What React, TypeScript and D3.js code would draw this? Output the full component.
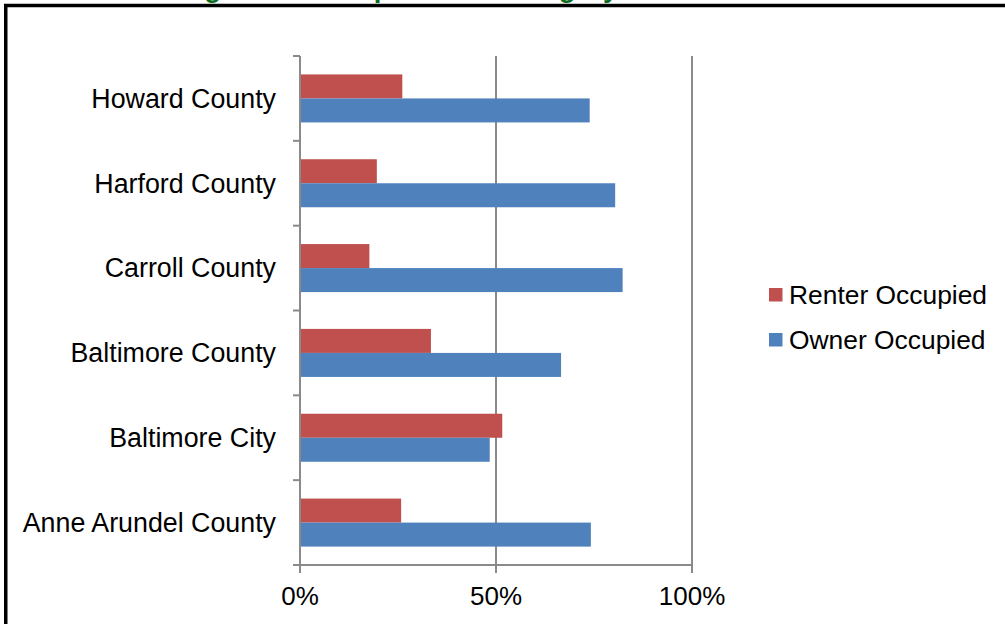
import React from "react";
import * as d3 from "d3";

const counties = [
  "Howard County",
  "Harford County",
  "Carroll County",
  "Baltimore County",
  "Baltimore City",
  "Anne Arundel County",
];
const renterOccupied = [0.261, 0.196, 0.177, 0.334, 0.516, 0.258];
const ownerOccupied = [0.739, 0.804, 0.823, 0.666, 0.484, 0.742];
const seriesNames = ["Renter Occupied", "Owner Occupied"];
const seriesColors = ["#C0504D", "#4F81BD"];
const xTicks = [0, 0.5, 1];
const titleText = "Housing Units Occupied Unit Category";

const W = 1005;
const H = 624;
const FONT = "'Liberation Sans', Arial, Helvetica, sans-serif";

export default function App() {
  const x = d3.scaleLinear().domain([0, 1]).range([300, 692]);
  const y = d3
    .scaleBand<string>()
    .domain(counties)
    .range([56, 565])
    .paddingInner(0.434)
    .paddingOuter(0.217);
  const ySub = d3
    .scaleBand<string>()
    .domain(seriesNames)
    .range([0, y.bandwidth()]);
  const seriesValues = [renterOccupied, ownerOccupied];
  const step = y.step();
  const top = 56;
  const bottom = 565;
  const boundaries = d3.range(counties.length + 1).map((i) => top + i * step);
  const fmt = d3.format(".0%");
  const gridColor = "#8a8a8a";

  return (
    <svg
      width={W}
      height={H}
      style={{ position: "absolute", left: 0, top: 0, background: "#fff" }}
      fontFamily={FONT}
    >
      <rect x={0} y={0} width={W} height={H} fill="#fff" />
      {/* title, mostly cut off above the frame */}
      <text x={111} y={-3} fill="#0B6B1E" fontWeight="bold" fontSize={27.5}>
        {titleText}
      </text>
      {/* chart frame */}
      <rect
        x={5.75}
        y={5.5}
        width={W + 20}
        height={H + 20}
        fill="none"
        stroke="#000"
        strokeWidth={3.5}
      />
      {/* vertical gridlines */}
      {xTicks.map((t) => (
        <line
          key={"g" + t}
          x1={x(t)}
          x2={x(t)}
          y1={top}
          y2={bottom + 8}
          stroke={gridColor}
          strokeWidth={2}
        />
      ))}
      {/* category axis ticks */}
      {boundaries.map((b, i) => (
        <line
          key={"t" + i}
          x1={x(0) - 7}
          x2={x(0)}
          y1={b}
          y2={b}
          stroke={gridColor}
          strokeWidth={2}
        />
      ))}
      {/* bottom axis line */}
      <line
        x1={x(0) - 7}
        x2={x(1)}
        y1={bottom}
        y2={bottom}
        stroke={gridColor}
        strokeWidth={2}
      />
      {/* bars */}
      {counties.map((c, i) => (
        <g key={c}>
          {seriesNames.map((s, j) => (
            <rect
              key={s}
              x={x(0) + 1}
              y={(y(c) as number) + (ySub(s) as number)}
              width={x(seriesValues[j][i]) - x(0) - 1}
              height={ySub.bandwidth()}
              fill={seriesColors[j]}
            />
          ))}
        </g>
      ))}
      {/* category labels */}
      {counties.map((c) => (
        <text
          key={"l" + c}
          x={276}
          y={(y(c) as number) + y.bandwidth() / 2}
          dy="0.35em"
          textAnchor="end"
          fontSize={26.8}
          fill="#000"
        >
          {c}
        </text>
      ))}
      {/* x tick labels */}
      {xTicks.map((t) => (
        <text
          key={"x" + t}
          x={x(t)}
          y={605}
          textAnchor="middle"
          fontSize={26}
          fill="#000"
        >
          {fmt(t)}
        </text>
      ))}
      {/* legend */}
      {seriesNames.map((s, j) => (
        <g key={"leg" + s} transform={`translate(769, ${294.5 + j * 45})`}>
          <rect x={0} y={-6.5} width={13.5} height={13.5} fill={seriesColors[j]} />
          <text x={20} y={0} dy="0.35em" fontSize={26.4} fill="#000">
            {s}
          </text>
        </g>
      ))}
    </svg>
  );
}
